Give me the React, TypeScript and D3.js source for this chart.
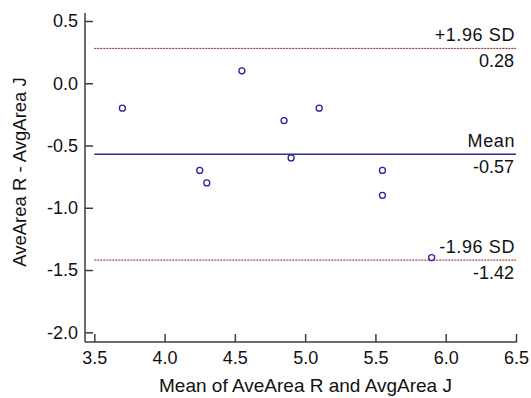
import React, { useRef, useEffect } from 'react';
import * as d3 from 'd3';

// Bland-Altman data: mean of the two methods vs their difference
const MEANS = [3.7, 4.25, 4.3, 4.55, 4.85, 4.9, 5.1, 5.55, 5.55, 5.9];
const DIFFS = [-0.2, -0.7, -0.8, 0.1, -0.3, -0.6, -0.2, -0.7, -0.9, -1.4];

const X_TICKS = [3.5, 4.0, 4.5, 5.0, 5.5, 6.0, 6.5];
const Y_TICKS = [0.5, 0.0, -0.5, -1.0, -1.5, -2.0];

const MEAN_DIFF = -0.57;
const UPPER_LOA = 0.28;
const LOWER_LOA = -1.42;

const X_LABEL = 'Mean of AveArea R and AvgArea J';
const Y_LABEL = 'AveArea R - AvgArea J';

const W = 531;
const H = 398;
const FONT = '"Liberation Sans", Arial, sans-serif';
const AXIS_COLOR = '#3c3c3c';
const NAVY = '#2b2e8c';
const DARK_RED = '#8e1b1b';

// plain hyphen instead of d3's unicode minus
const fmt = (spec: string) => {
    const f = d3.format(spec);
    return (v: number) => f(v).replace('\u2212', '-');
};

const App = () => {
    const svgRef = useRef<SVGSVGElement>(null);

    useEffect(() => {
        if (!svgRef.current) return;
        const svg = d3.select(svgRef.current);
        svg.selectAll('*').remove();

        const x = d3.scaleLinear().domain([3.5, 6.5]).range([94.3, 516]);
        const y = d3.scaleLinear().domain([-2, 0.5]).range([332.3, 21]);

        const axisX = 85;
        const axisY = 342;

        // Axis lines (offset from the tick range)
        svg.append('line')
            .attr('x1', axisX).attr('x2', axisX)
            .attr('y1', 13).attr('y2', axisY)
            .attr('stroke', AXIS_COLOR).attr('stroke-width', 1.5);
        svg.append('line')
            .attr('x1', axisX).attr('x2', 517)
            .attr('y1', axisY).attr('y2', axisY)
            .attr('stroke', AXIS_COLOR).attr('stroke-width', 1.5);

        const yAxis = svg.append('g')
            .attr('transform', `translate(${axisX},0)`)
            .call(d3.axisLeft(y).tickValues(Y_TICKS).tickFormat(fmt('.1f'))
                .tickSize(-8).tickPadding(7));
        const xAxis = svg.append('g')
            .attr('transform', `translate(0,${axisY})`)
            .call(d3.axisBottom(x).tickValues(X_TICKS).tickFormat(fmt('.1f'))
                .tickSize(-8).tickPadding(9));

        [yAxis, xAxis].forEach(a => {
            a.select('.domain').remove();
            a.selectAll('line').attr('stroke', AXIS_COLOR).attr('stroke-width', 1.5);
            a.selectAll('text')
                .attr('font-family', FONT)
                .attr('font-size', 18)
                .attr('fill', '#111');
        });

        // Reference lines
        const refs = [
            { v: UPPER_LOA, name: '+1.96 SD', color: DARK_RED, dash: '2,1', w: 1 },
            { v: MEAN_DIFF, name: 'Mean', color: NAVY, dash: null, w: 1.5 },
            { v: LOWER_LOA, name: '-1.96 SD', color: DARK_RED, dash: '2,1', w: 1 },
        ];
        const g = svg.append('g');
        refs.forEach(r => {
            g.append('line')
                .attr('x1', x(3.5)).attr('x2', x(6.5))
                .attr('y1', y(r.v)).attr('y2', y(r.v))
                .attr('stroke', r.color)
                .attr('stroke-width', r.w)
                .attr('stroke-dasharray', r.dash);
            g.append('text')
                .attr('x', 515).attr('y', y(r.v) - 7)
                .attr('text-anchor', 'end')
                .attr('font-family', FONT).attr('font-size', 18)
                .attr('letter-spacing', 0.6)
                .attr('fill', '#111')
                .text(r.name);
            g.append('text')
                .attr('x', 514).attr('y', y(r.v) + 19)
                .attr('text-anchor', 'end')
                .attr('font-family', FONT).attr('font-size', 18)
                .attr('fill', '#111')
                .text(fmt('.2f')(r.v));
        });

        // Points
        svg.append('g')
            .selectAll('circle')
            .data(MEANS.map((m, i) => [m, DIFFS[i]]))
            .enter()
            .append('circle')
            .attr('cx', d => x(d[0]))
            .attr('cy', d => y(d[1]))
            .attr('r', 3)
            .attr('fill', 'white')
            .attr('stroke', '#22229a')
            .attr('stroke-width', 1.3);

        // Axis titles
        svg.append('text')
            .attr('x', 305.5).attr('y', 392)
            .attr('text-anchor', 'middle')
            .attr('font-family', FONT).attr('font-size', 19)
            .attr('fill', '#111')
            .text(X_LABEL);
        svg.append('text')
            .attr('transform', 'translate(26,172) rotate(-90)')
            .attr('text-anchor', 'middle')
            .attr('font-family', FONT).attr('font-size', 18.5)
            .attr('fill', '#111')
            .text(Y_LABEL);
    }, []);

    return (
        <div style={{ position: 'fixed', left: 0, top: 0, width: W, height: H, background: 'white' }}>
            <svg ref={svgRef} width={W} height={H} style={{ display: 'block' }} />
        </div>
    );
};

export default App;
